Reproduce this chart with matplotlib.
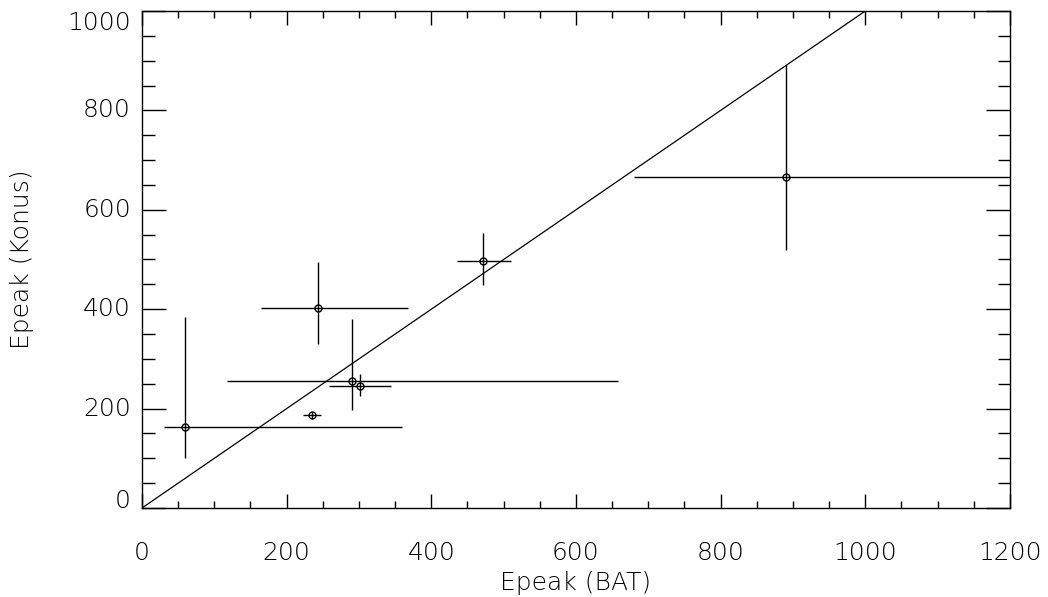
import numpy as np
import matplotlib.pyplot as plt
from matplotlib.ticker import MultipleLocator

# Epeak values
bat = np.array([59, 244, 290, 301, 235, 472, 890])
bat_lo = np.array([30, 165, 118, 259, 223, 435, 680])
bat_hi = np.array([359, 368, 658, 344, 248, 510, 1250])
konus = np.array([162, 403, 256, 246, 188, 497, 665])
konus_lo = np.array([101, 329, 197, 226, 180, 449, 520])
konus_hi = np.array([385, 495, 380, 269, 194, 553, 891])

line_x = [0, 1000]
yticks = [0, 200, 400, 600, 800, 1000]

plt.rcParams['font.family'] = 'DejaVu Sans'

fig = plt.figure(figsize=(10.48, 5.97), dpi=100)
ax = fig.add_axes([0.1355, 0.1491, 0.8282, 0.8325])

xerr = [bat - bat_lo, bat_hi - bat]
yerr = [konus - konus_lo, konus_hi - konus]
ax.errorbar(bat, konus, xerr=xerr, yerr=yerr, fmt='o', ms=5, mfc='none',
            mec='black', mew=1.0, ecolor='black', elinewidth=1.0, capsize=0)
ax.plot(line_x, line_x, color='black', lw=0.9)

ax.set_xlim(0, 1200)
ax.set_ylim(0, 1000)
ax.xaxis.set_major_locator(MultipleLocator(200))
ax.xaxis.set_minor_locator(MultipleLocator(50))
ax.set_yticks(yticks)
ax.yaxis.set_minor_locator(MultipleLocator(50))

ax.tick_params(axis='both', which='both', direction='in', top=True, right=True,
               colors='black', width=1.0)
ax.tick_params(axis='x', which='major', length=10, pad=24, labelsize=18)
ax.tick_params(axis='x', which='minor', length=5)
ax.tick_params(axis='y', which='major', length=17, labelleft=False)
ax.tick_params(axis='y', which='minor', length=9)
for lab in ax.get_xticklabels():
    lab.set_fontweight('light')

# y labels drawn by hand so the end ones stay inside the frame, IDL style
for i, v in enumerate(yticks):
    va = 'baseline' if i == 0 else ('top' if i == len(yticks) - 1 else 'center')
    ax.annotate(str(v), xy=(0, v), xycoords=('axes fraction', 'data'),
                xytext=(-8, 0), textcoords='offset points', ha='right', va=va,
                fontsize=18, fontweight='light')

for sp in ax.spines.values():
    sp.set_linewidth(1.0)

ax.set_xlabel('Epeak (BAT)', fontsize=18, fontweight='light', labelpad=4)
ax.set_ylabel('Epeak (Konus)', fontsize=18, fontweight='light')
ax.yaxis.set_label_coords(-0.125, 0.5)

fig.savefig('out.png', dpi=100)
